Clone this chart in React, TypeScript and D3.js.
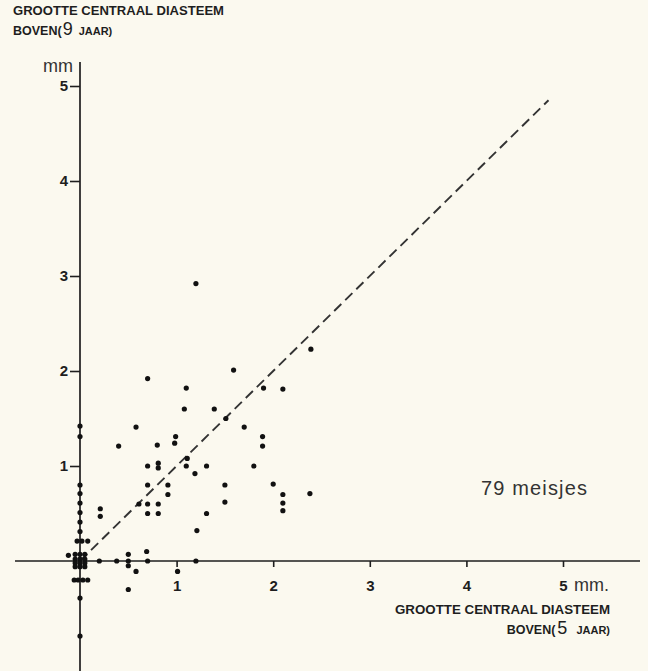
import React, { useEffect, useRef } from 'react';
import * as d3 from 'd3';

// scatter values (mm), 5 jaar -> 9 jaar
const offAxisPoints: [number, number][] = [
  [1.59, 2.01], [0.70, 1.92], [1.10, 1.82], [1.90, 1.82], [2.10, 1.81],
  [1.08, 1.60], [1.39, 1.60], [1.51, 1.50], [0.58, 1.41], [1.70, 1.41],
  [0.99, 1.31], [0.98, 1.24], [1.89, 1.31], [1.89, 1.21], [0.40, 1.21],
  [0.80, 1.22], [1.11, 1.08], [0.70, 1.00], [0.81, 1.03], [0.81, 0.98],
  [1.10, 1.00], [1.31, 1.00], [1.80, 1.00], [1.19, 0.92], [0.70, 0.80],
  [0.91, 0.80], [1.50, 0.80], [2.00, 0.81], [0.91, 0.70], [2.10, 0.70],
  [2.10, 0.61], [2.10, 0.53], [0.61, 0.60], [0.70, 0.60], [0.81, 0.60],
  [0.70, 0.50], [0.81, 0.50], [1.50, 0.62], [1.31, 0.50], [1.21, 0.32],
  [0.21, 0.55], [0.21, 0.47], [0.50, 0.07], [0.69, 0.10], [2.38, 0.71],
  [2.39, 2.23], [1.20, 2.92],
];

const xAxisPoints: [number, number][] = [
  [0.20, 0], [0.38, 0], [0.50, 0], [0.50, -0.05], [0.58, -0.11],
  [0.70, 0], [1.01, -0.11], [1.20, 0], [0.50, -0.30],
];

const yAxisPoints: [number, number][] = [
  [0, 1.42], [0, 1.31], [0, 0.80], [0, 0.71], [0, 0.61], [0, 0.51],
  [0, 0.41], [0, 0.31], [-0.03, 0.21], [0.02, 0.21], [0.08, 0.21],
  [-0.06, -0.20], [-0.02, -0.20], [0.03, -0.20], [0.08, -0.20],
  [0, -0.39], [0, -0.79],
];

// the pile of (near) zero values at the origin
const originCluster: [number, number][] = [
  [-0.12, 0.06],
  [-0.05, 0.07], [0, 0.07], [0.05, 0.07],
  [-0.05, 0.02], [0, 0.02], [0.05, 0.02],
  [-0.05, -0.02], [0, -0.02], [0.05, -0.02],
  [-0.05, -0.06], [0, -0.06], [0.05, -0.06],
];

const xTicks = [1, 2, 3, 4, 5];
const yTicks = [1, 2, 3, 4, 5];
const diagonal: [number, number][] = [[0, 0], [4.85, 4.85]];

const FONT = '"Liberation Sans", Arial, Helvetica, sans-serif';
const INK = '#1e1e1e';

const App = () => {
  const svgRef = useRef<SVGSVGElement | null>(null);

  useEffect(() => {
    const width = 648;
    const height = 671;
    const svg = d3.select(svgRef.current)
      .attr('width', width)
      .attr('height', height);
    svg.selectAll('*').remove();

    svg.append('rect')
      .attr('width', width)
      .attr('height', height)
      .attr('fill', '#fbf9ef');

    const x = d3.scaleLinear().domain([0, 5]).range([80, 563]);
    const y = d3.scaleLinear().domain([0, 5]).range([561, 86]);

    // axis lines run past the tick range, as in the print
    svg.append('line')
      .attr('x1', 15).attr('x2', 640)
      .attr('y1', y(0)).attr('y2', y(0))
      .attr('stroke', INK).attr('stroke-width', 1.7);
    svg.append('line')
      .attr('x1', x(0)).attr('x2', x(0))
      .attr('y1', 62).attr('y2', height)
      .attr('stroke', INK).attr('stroke-width', 1.7);

    // x axis ticks
    const xAxis = d3.axisBottom(x)
      .tickValues(xTicks)
      .tickSize(6)
      .tickPadding(13)
      .tickFormat(d3.format('d'));
    const gx = svg.append('g')
      .attr('transform', `translate(0,${y(0)})`)
      .call(xAxis);
    gx.select('.domain').remove();
    gx.selectAll('line').attr('stroke', INK).attr('stroke-width', 1.6);
    gx.selectAll('text')
      .attr('fill', INK)
      .style('font-family', FONT)
      .style('font-size', '15px')
      .style('font-weight', 'bold');

    svg.append('text')
      .attr('x', x(5) + 11)
      .attr('y', 591)
      .attr('fill', '#333')
      .style('font-family', FONT)
      .style('font-size', '18px')
      .text('mm.');

    // y axis ticks
    const yAxis = d3.axisLeft(y)
      .tickValues(yTicks)
      .tickSize(10)
      .tickPadding(2)
      .tickFormat(d3.format('d'));
    const gy = svg.append('g')
      .attr('transform', `translate(${x(0)},0)`)
      .call(yAxis);
    gy.select('.domain').remove();
    gy.selectAll('line').attr('stroke', INK).attr('stroke-width', 1.6);
    gy.selectAll('text')
      .attr('fill', INK)
      .style('font-family', FONT)
      .style('font-size', '15px')
      .style('font-weight', 'bold');

    svg.append('text')
      .attr('x', 73)
      .attr('y', 72)
      .attr('text-anchor', 'end')
      .attr('fill', '#333')
      .style('font-family', FONT)
      .style('font-size', '18px')
      .text('mm');

    // y = x reference line
    const line = d3.line<[number, number]>()
      .x(d => x(d[0]))
      .y(d => y(d[1]));
    svg.append('path')
      .attr('d', line(diagonal))
      .attr('fill', 'none')
      .attr('stroke', '#333')
      .attr('stroke-width', 1.9)
      .attr('stroke-dasharray', '10 5.5');

    // points
    const allPoints = [...offAxisPoints, ...xAxisPoints, ...yAxisPoints, ...originCluster];
    svg.append('g')
      .selectAll('circle')
      .data(allPoints)
      .enter().append('circle')
      .attr('cx', d => x(d[0]))
      .attr('cy', d => y(d[1]))
      .attr('r', 2.6)
      .attr('fill', '#111');

    // titles: [text, size, dx, weight]
    const title = (tx: number, ty: number, anchor: string, parts: [string, number, number?, string?][], len?: number) => {
      const t = svg.append('text')
        .attr('x', tx)
        .attr('y', ty)
        .attr('text-anchor', anchor)
        .attr('fill', INK)
        .style('font-family', FONT)
        .style('font-weight', 'bold');
      parts.forEach(([s, size, dx, weight]) => {
        const span = t.append('tspan').style('font-size', `${size}px`).text(s);
        if (dx) span.attr('dx', dx);
        if (weight) span.style('font-weight', weight);
      });
      if (len) t.attr('textLength', len).attr('lengthAdjust', 'spacingAndGlyphs');
      return t;
    };

    title(13, 15, 'start', [['GROOTTE CENTRAAL DIASTEEM', 12.5]], 211);
    title(13, 35, 'start', [['BOVEN(', 12.5], ['9', 18, 1, 'normal'], ['JAAR)', 11, 6]]);

    title(610, 614, 'end', [['GROOTTE CENTRAAL DIASTEEM', 12.5]], 215);
    title(610, 634, 'end', [['BOVEN(', 12.5], ['5', 18, 2, 'normal'], ['JAAR)', 11, 9]]);

    svg.append('text')
      .attr('x', 587)
      .attr('y', 495)
      .attr('text-anchor', 'end')
      .attr('fill', '#333')
      .style('font-family', FONT)
      .style('font-size', '20px')
      .attr('textLength', 106)
      .text('79 meisjes');
  }, []);

  return (
    <svg ref={svgRef} style={{ position: 'absolute', left: 0, top: 0, display: 'block' }}></svg>
  );
};

export default App;
